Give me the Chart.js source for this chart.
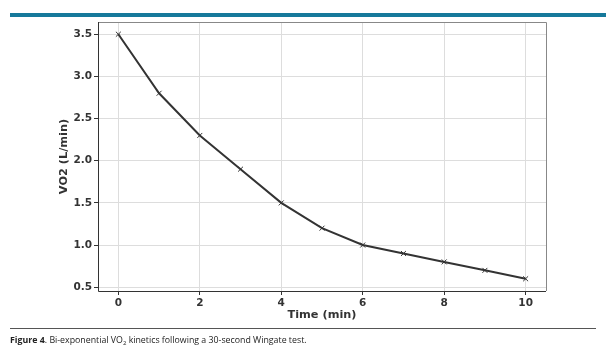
<!DOCTYPE html>
<html>
<head>
<meta charset="utf-8">
<script src="https://cdn.jsdelivr.net/npm/chart.js@4"></script>
<style>
  body { margin:0; background:#fff; width:616px; height:351px; position:relative; overflow:hidden; font-family:"Open Sans", sans-serif; }
  #bar { position:absolute; left:10px; top:13px; width:596px; height:4px; background:#16799b; }
  #wrap { position:absolute; left:0; top:0; width:616px; height:330px; }
  #rule { position:absolute; left:10px; top:328px; width:586px; height:1px; background:#555; }
  #cap { position:absolute; left:10px; top:334px; font-size:8.8px; color:#222; white-space:nowrap; }
  #cap sub { font-size:6px; vertical-align:-2px; line-height:0; }
</style>
</head>
<body>
<div id="bar"></div>
<div id="wrap"><canvas id="chart" width="616" height="330"></canvas></div>
<div id="rule"></div>
<div id="cap"><b>Figure 4</b>. Bi-exponential VO<sub>2</sub> kinetics following a 30-second Wingate test.</div>
<script>
const tiempo = [0, 1, 2, 3, 4, 5, 6, 7, 8, 9, 10];
const vo2 = [3.5, 2.8, 2.3, 1.9, 1.5, 1.2, 1.0, 0.9, 0.8, 0.7, 0.6];
const xTicks = [0, 2, 4, 6, 8, 10];
const yTicks = [0.5, 1.0, 1.5, 2.0, 2.5, 3.0, 3.5];

const fuente = { family: 'DejaVu Sans', weight: 'bold', size: 10.5 };
const fuenteTitulo = { family: 'DejaVu Sans', weight: 'bold', size: 11.3 };

// marco: arriba y derecha gris, izquierda y abajo oscuro
const marco = {
  id: 'marco',
  afterDraw(c) {
    const a = c.chartArea, g = c.ctx;
    g.save();
    g.lineWidth = 1;
    g.strokeStyle = '#888';
    g.beginPath();
    g.moveTo(a.left, a.top + 0.5); g.lineTo(a.right + 0.5, a.top + 0.5); g.lineTo(a.right + 0.5, a.bottom);
    g.stroke();
    g.strokeStyle = '#333';
    g.beginPath();
    g.moveTo(a.left + 0.5, a.top); g.lineTo(a.left + 0.5, a.bottom + 0.5); g.lineTo(a.right, a.bottom + 0.5);
    g.stroke();
    g.restore();
  }
};

new Chart(document.getElementById('chart').getContext('2d'), {
  type: 'line',
  data: {
    datasets: [{
      data: tiempo.map((t, i) => ({ x: t, y: vo2[i] })),
      borderColor: '#333',
      borderWidth: 2,
      pointStyle: 'crossRot',
      pointRadius: 3.5,
      pointBorderWidth: 1,
      pointBorderColor: '#333',
      fill: false,
      tension: 0
    }]
  },
  options: {
    responsive: false,
    animation: false,
    layout: { padding: { left: 0, right: 70, top: 22, bottom: 0 } },
    plugins: { legend: { display: false }, tooltip: { enabled: false } },
    scales: {
      x: {
        type: 'linear', min: -0.5, max: 10.5,
        afterBuildTicks: s => { s.ticks = xTicks.map(v => ({ value: v })); },
        afterFit: s => { s.height = 39; },
        grid: { color: '#ddd', lineWidth: 1, tickColor: '#333', tickLength: 4 },
        border: { display: false },
        ticks: { color: '#333', font: fuente, padding: 2, maxRotation: 0 },
        title: { display: true, text: 'Time (min)', color: '#333', font: fuenteTitulo, padding: { top: 0, bottom: 8.2 } }
      },
      y: {
        type: 'linear', min: 0.455, max: 3.645,
        afterBuildTicks: s => { s.ticks = yTicks.map(v => ({ value: v })); },
        afterFit: s => { s.width = 98; },
        grid: { color: '#ddd', lineWidth: 1, tickColor: '#333', tickLength: 4 },
        border: { display: false },
        ticks: { color: '#333', font: fuente, padding: 2, callback: v => v.toFixed(1) },
        title: { display: true, text: 'VO2 (L/min)', color: '#333', font: fuenteTitulo, padding: { top: 57.2, bottom: 0 } }
      }
    }
  },
  plugins: [marco]
});
</script>
</body>
</html>
